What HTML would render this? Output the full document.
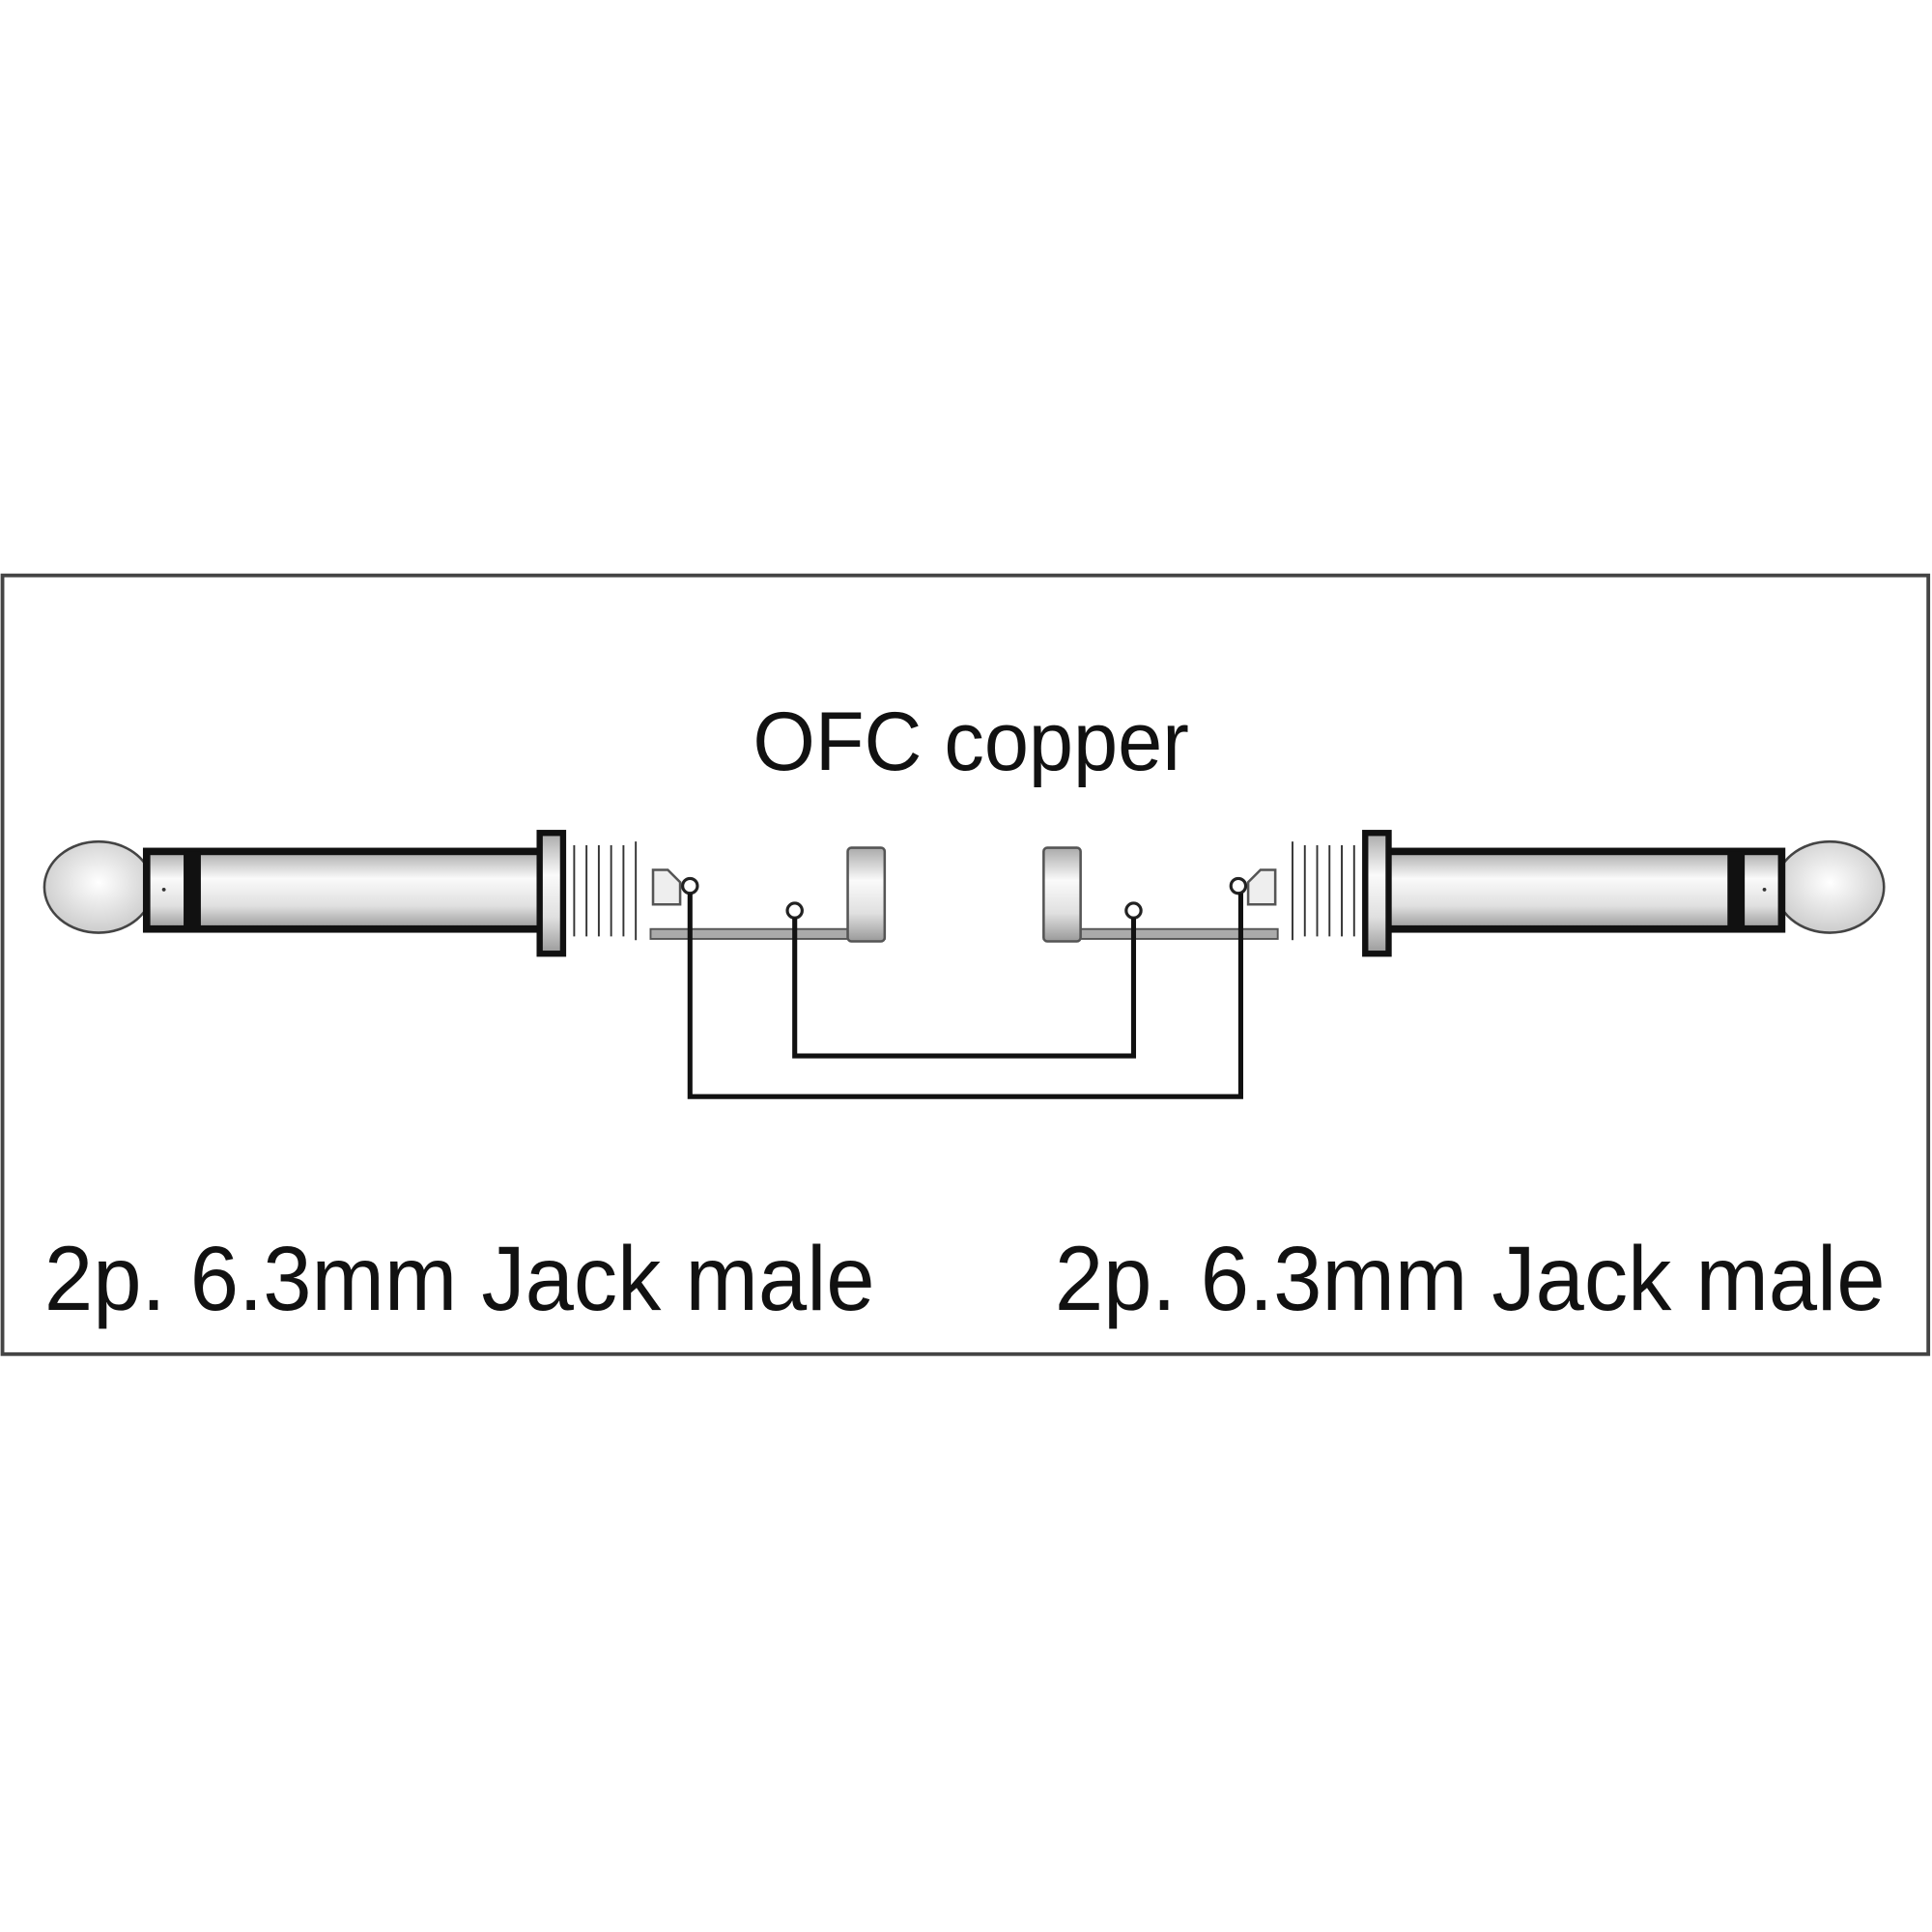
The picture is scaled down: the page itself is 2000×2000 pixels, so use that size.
<!DOCTYPE html>
<html><head><style>html,body{margin:0;padding:0;background:#fff}svg{display:block}</style></head>
<body>
<svg width="2000" height="2000" viewBox="0 0 1568 1568" xmlns="http://www.w3.org/2000/svg">
<defs>
<linearGradient id="g" x1="0" y1="0" x2="0" y2="1">
<stop offset="0" stop-color="#aaa"/><stop offset="0.35" stop-color="#fafafa"/><stop offset="0.7" stop-color="#e0e0e0"/><stop offset="1" stop-color="#999"/>
</linearGradient>
<radialGradient id="r" cx="0.5" cy="0.45" r="0.6">
<stop offset="0" stop-color="#fff"/><stop offset="1" stop-color="#c8c8c8"/>
</radialGradient>
<g id="plug">
<ellipse cx="80" cy="720" rx="44" ry="37" fill="url(#r)" stroke="#444" stroke-width="2"/>
<rect x="119" y="691" width="320" height="63" fill="url(#g)" stroke="#111" stroke-width="6"/>
<rect x="149" y="691" width="14" height="63" fill="#111"/>
<circle cx="133" cy="722" r="1.5" fill="#333"/>
<rect x="438" y="676" width="19" height="98" fill="url(#g)" stroke="#111" stroke-width="5"/>
<g stroke="#333" stroke-width="1.5">
<line x1="466" y1="686" x2="466" y2="760"/><line x1="476" y1="686" x2="476" y2="760"/>
<line x1="486" y1="686" x2="486" y2="760"/><line x1="496" y1="686" x2="496" y2="760"/>
<line x1="506" y1="686" x2="506" y2="760"/><line x1="516" y1="683" x2="516" y2="763"/>
</g>
<path d="M530 706 h12 l10 10 v18 h-22 z" fill="#eee" stroke="#555" stroke-width="2"/>
<rect x="528" y="754" width="190" height="8" fill="#aaa" stroke="#555" stroke-width="1.5"/>
<rect x="688" y="688" width="30" height="76" rx="3" fill="url(#g)" stroke="#555" stroke-width="2"/>
<circle cx="560" cy="719" r="6" fill="#fff" stroke="#222" stroke-width="2.5"/>
<circle cx="645" cy="739" r="6" fill="#fff" stroke="#222" stroke-width="2.5"/>
</g>
</defs>
<rect x="2" y="467" width="1563" height="632" fill="#fff" stroke="#444" stroke-width="3"/>
<use href="#plug"/>
<use href="#plug" transform="translate(1565,0) scale(-1,1)"/>
<g fill="none" stroke="#111" stroke-width="4">
<path d="M560 725 V890 H1007 V725"/>
<path d="M645 745 V857 H920 V745"/>
</g>
<text x="788" y="625" font-family="Liberation Sans, sans-serif" font-size="68" text-anchor="middle" textLength="354" lengthAdjust="spacingAndGlyphs" fill="#111">OFC copper</text>
<text x="36" y="1063" font-family="Liberation Sans, sans-serif" font-size="74" textLength="674" lengthAdjust="spacingAndGlyphs" fill="#111">2p. 6.3mm Jack male</text>
<text x="856" y="1063" font-family="Liberation Sans, sans-serif" font-size="74" textLength="674" lengthAdjust="spacingAndGlyphs" fill="#111">2p. 6.3mm Jack male</text>
</svg>
</body></html>
